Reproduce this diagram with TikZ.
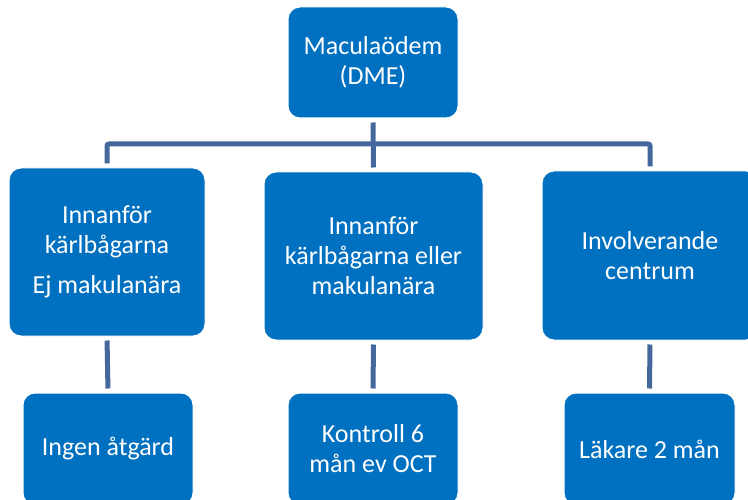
\documentclass[tikz,border=0pt]{standalone}
\usepackage{fontspec}
\setmainfont{Carlito}
\definecolor{boxblue}{RGB}{0,112,192}
\definecolor{linkblue}{RGB}{68,104,155}
\tikzset{
  card/.style={rectangle, rounded corners=12pt, fill=boxblue, draw=white, line width=1pt,
    text=white, align=center, inner sep=0pt,
    font=\fontsize{26}{30}\selectfont},
  conn/.style={draw=linkblue, line width=5pt, shorten <=4pt, shorten >=4pt}
}
\begin{document}
\begin{tikzpicture}[x=1pt, y=-1pt]
  \useasboundingbox (0,0) rectangle (748,500);
  \clip (0,0) rectangle (748,500);

  % root
  \node[card, minimum width=170pt, minimum height=111pt] (top) at (373,62.5) {Maculaödem\\(DME)};

  % second level
  \node[card, minimum width=196pt, minimum height=168pt] (left) at (107,252)
    {Innanför\\kärlbågarna\\[10pt]Ej makulanära};
  \node[card, minimum width=219pt, minimum height=168pt] (mid) at (373.5,256)
    {Innanför\\kärlbågarna eller\\makulanära};
  \node[card, minimum width=216pt, minimum height=169pt] (right) at (650,255.5)
    {Involverande\\centrum};

  % third level
  \node[card, minimum width=170pt, minimum height=112pt] (bl) at (108,449) {Ingen åtgärd};
  \node[card, minimum width=170pt, minimum height=112pt] (bm) at (373,449) {Kontroll 6\\mån ev OCT};
  \node[card, minimum width=171pt, minimum height=112pt] (br) at (649.5,449) {Läkare 2 mån};

  % connectors
  \coordinate (bus) at (373,144);
  \draw[conn] (top.south) -- (mid.north);
  \draw[conn, rounded corners=2pt] (left.north) |- (bus) -| (right.north);
  \draw[conn] (left.south) -- (bl.north);
  \draw[conn] (mid.south) -- (bm.north);
  \draw[conn] (right.south) -- (br.north);
\end{tikzpicture}
\end{document}
